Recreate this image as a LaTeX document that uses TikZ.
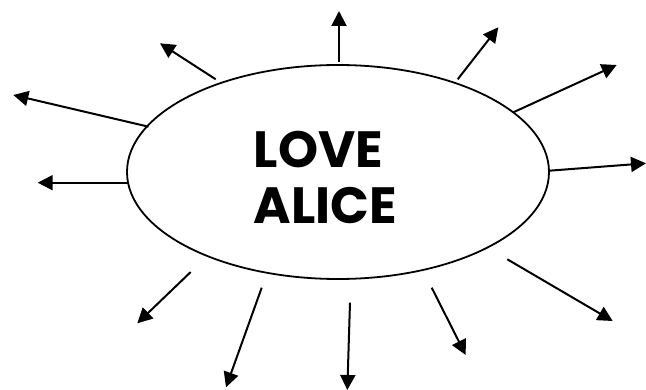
\documentclass[tikz,border=0pt]{standalone}
\usepackage{fontspec}
\setmainfont{Poppins}
\usepackage{tikz}
\usetikzlibrary{shapes.geometric, arrows.meta}
\tikzset{
    % Node styles
    bubble/.style={
        ellipse,
        draw=black,
        line width=1.8pt,
        minimum width=422pt,
        minimum height=214pt,
        inner sep=0pt
    },
    bubbletext/.style={
        align=left,
        inner sep=0pt,
        font=\fontsize{51}{56}\selectfont\bfseries
    },
    % Arrow styles
    rayarrow/.style={
        -{Triangle[length=15pt,width=15pt]},
        line width=2pt,
        black
    }
}
\begin{document}
\begin{tikzpicture}[x=1pt, y=-1pt]
    \useasboundingbox (0,0) rectangle (646,390);

    % Central bubble
    \node[bubble] (love) at (338,172) {};
    \node[bubbletext] (lovetext) at (325.5,177) {LOVE\\ALICE};

    % Ray end points
    \foreach \name/\tx/\ty/\hx/\hy in {
        top/339/62/339/11,
        upleft/215.7/79.3/160/43.3,
        leftup/148.5/126.7/13.3/95,
        left/127.7/182.7/37.7/182.7,
        lowleft/190.7/272/137.3/323.3,
        downleft/261.7/287.7/226/387.3,
        down/350/302.7/347.3/390,
        downright/431.7/287.7/465.7/355,
        lowright/507.3/259.3/612.7/321,
        right/549.3/170.7/646/163.3,
        rightup/513.3/112.3/616.7/65,
        upright/457.7/79.3/498.3/27.3} {
        \coordinate (\name tail) at (\tx,\ty);
        \coordinate (\name tip) at (\hx,\hy);
    }

    % Rays
    \foreach \name in {top, upleft, leftup, left, lowleft, downleft, down, downright, lowright, right, rightup, upright}
        \draw[rayarrow] (\name tail) -- (\name tip);
\end{tikzpicture}
\end{document}
